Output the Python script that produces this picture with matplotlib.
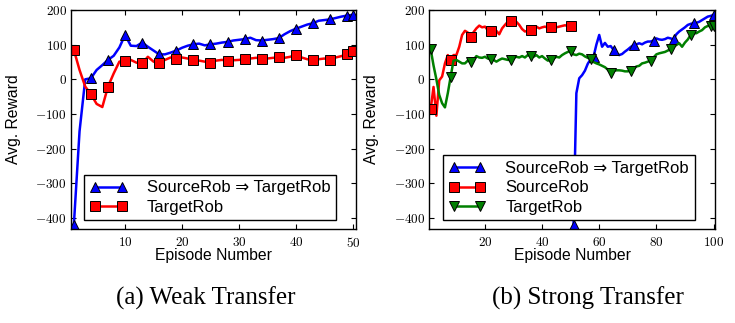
import matplotlib
matplotlib.use('Agg')
import matplotlib.pyplot as plt
from matplotlib.ticker import FuncFormatter

plt.rcParams['mathtext.fontset'] = 'cm'
plt.rcParams['font.family'] = ['Liberation Sans', 'DejaVu Sans']

# weak transfer, episodes 1..50
weak_episodes = list(range(1, 51))
weak_transfer = [-420, -150, 0, 3, 27, 41, 56, 68, 92, 128,
                 97, 96, 106, 94, 83, 72, 72, 77, 83, 91,
                 97, 101, 103, 98, 101, 103, 106, 108, 112, 114,
                 116, 120, 113, 112, 114, 116, 119, 130, 139, 146,
                 152, 158, 162, 169, 171, 173, 177, 181, 184, 186]
weak_target = [85, 27, -21, -43, -71, -80, -21, 17, 51, 54,
               56, 48, 46, 65, 51, 46, 56, 63, 60, 63,
               60, 56, 54, 51, 48, 54, 56, 54, 55, 56,
               58, 60, 62, 60, 60, 62, 63, 62, 65, 71,
               63, 58, 56, 58, 60, 56, 63, 67, 72, 83]

# strong transfer, episodes 1..100
strong_episodes = list(range(1, 101))
strong_source = [-86, -22, -105, -3, 8, 46, 70, 56, 70, 70,
                 94, 128, 140, 135, 121, 136, 147, 155, 150, 152,
                 142, 138, 145, 140, 130, 147, 157, 166, 168, 169,
                 166, 157, 145, 138, 140, 142, 147, 152, 147, 150,
                 152, 149, 152, 152, 150, 152, 154, 156, 154, 154]
strong_target = [87, 40, 0, -45, -69, -81, -40, 8, 54, 56,
                 51, 46, 46, 54, 51, 56, 67, 63, 62, 65,
                 60, 58, 56, 51, 56, 60, 58, 56, 56, 62,
                 65, 63, 67, 63, 70, 67, 65, 70, 63, 67,
                 60, 54, 56, 60, 65, 63, 70, 75, 79, 83,
                 72, 70, 74, 72, 66, 62, 58, 50, 46, 43,
                 39, 35, 28, 19, 24, 26, 26, 25, 23, 23,
                 25, 31, 37, 39, 46, 48, 51, 54, 63, 72,
                 75, 77, 79, 83, 87, 94, 99, 104, 94, 106,
                 115, 128, 133, 133, 138, 142, 150, 154, 154, 154]
strong_transfer = [-420, -40, 3, 12, 25, 45, 58, 65, 100, 128,
                   94, 105, 94, 96, 85, 75, 70, 73, 80, 86,
                   93, 99, 101, 104, 101, 106, 109, 109, 112, 118,
                   115, 114, 116, 120, 118, 115, 130, 138, 144, 150,
                   157, 160, 162, 163, 166, 171, 176, 181, 183, 186]
strong_transfer_episodes = list(range(51, 101))

lbl_both = 'SourceRob \u21d2 TargetRob'
lbl_source = 'SourceRob'
lbl_target = 'TargetRob'


def marks(n, step):
    idx = list(range(0, n, step))
    if idx[-1] != n - 1:
        idx.append(n - 1)
    return idx


def style_axes(ax, xlim, xticks):
    ax.set_xlim(*xlim)
    ax.set_ylim(-432, 200)
    ax.set_xticks(xticks)
    ax.set_yticks(range(-400, 201, 100))
    fmt = FuncFormatter(lambda v, p: r'$%d$' % v)
    ax.xaxis.set_major_formatter(fmt)
    ax.yaxis.set_major_formatter(fmt)
    ax.tick_params(direction='in', top=True, right=True, length=3.5,
                   width=0.8, labelsize=9.5)
    ax.tick_params(axis='x', pad=5)
    ax.tick_params(axis='y', pad=3)
    for s in ax.spines.values():
        s.set_linewidth(1.0)
    ax.set_xlabel('Episode Number', fontsize=11.3)
    ax.set_ylabel('Avg. Reward', fontsize=11.3)
    ax.xaxis.set_label_coords(0.5, -0.085)
    ax.yaxis.set_label_coords(-0.176, 0.5)


line_kw = dict(lw=1.8, ms=6.5, mec='black', mew=0.7)

fig = plt.figure(figsize=(7.35, 3.23), dpi=100)
ax1 = fig.add_axes([0.0966, 0.291, 0.3873, 0.678])
ax2 = fig.add_axes([0.584, 0.291, 0.3887, 0.678])

ax1.plot(weak_episodes, weak_transfer, color='b', marker='^',
         markevery=marks(50, 3), label=lbl_both, **line_kw)
ax1.plot(weak_episodes, weak_target, color='r', marker='s',
         markevery=marks(50, 3), label=lbl_target, **line_kw)
style_axes(ax1, (0.5, 50.5), [10, 20, 30, 40, 50])

ax2.plot(strong_transfer_episodes, strong_transfer, color='b', marker='^',
         markevery=marks(50, 7), label=lbl_both, **line_kw)
ax2.plot(strong_episodes[:50], strong_source, color='r', marker='s',
         markevery=marks(50, 7), label=lbl_source, **line_kw)
ax2.plot(strong_episodes, strong_target, color='g', marker='v',
         markevery=marks(100, 7), label=lbl_target, **line_kw)
style_axes(ax2, (0.5, 100.5), [20, 40, 60, 80, 100])

for ax in (ax1, ax2):
    leg = ax.legend(loc='lower left', bbox_to_anchor=(0.047, 0.039),
                    borderaxespad=0, numpoints=2, fontsize=12,
                    handlelength=2.2, handletextpad=1.2, labelspacing=0.25,
                    borderpad=0.35, fancybox=False, framealpha=1)
    leg.get_frame().set_edgecolor('black')
    leg.get_frame().set_linewidth(1.0)

fig.text(0.28, 0.075, '(a) Weak Transfer', family='Liberation Serif',
         fontsize=18, ha='center', va='center')
fig.text(0.80, 0.075, '(b) Strong Transfer', family='Liberation Serif',
         fontsize=18, ha='center', va='center')

fig.savefig('out.png', dpi=100)
